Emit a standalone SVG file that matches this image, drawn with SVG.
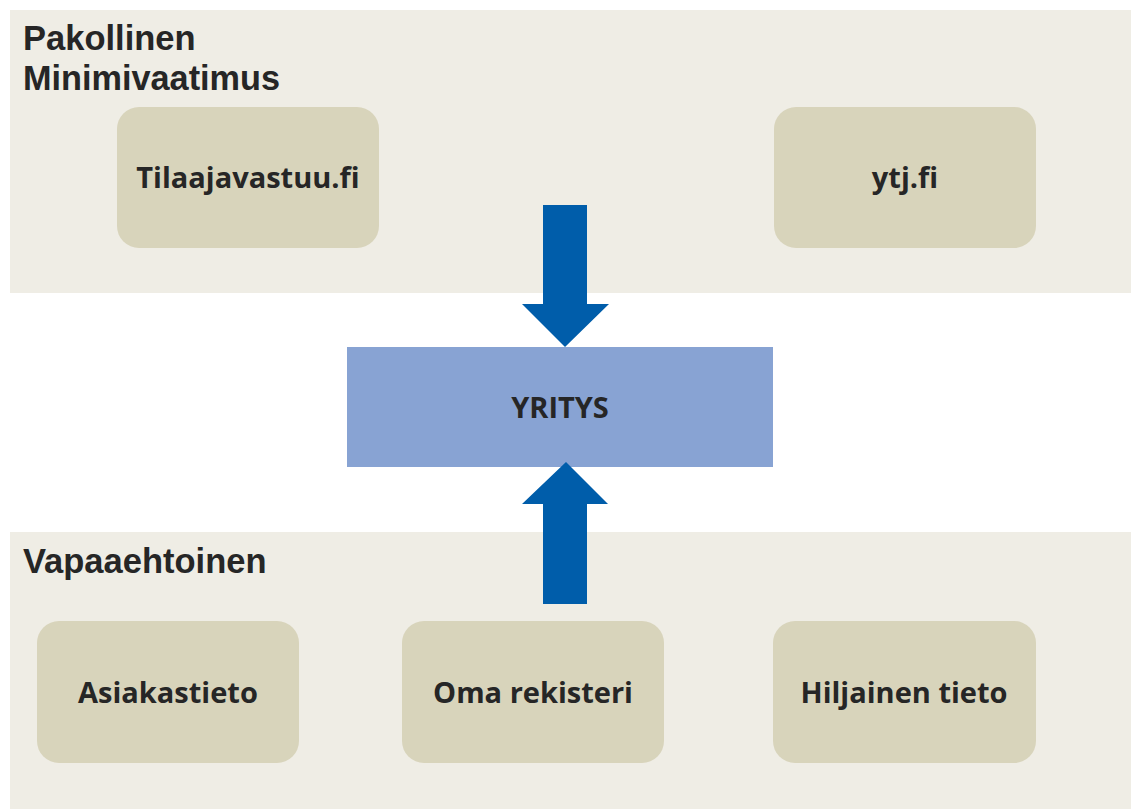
<svg xmlns="http://www.w3.org/2000/svg" width="1131" height="809" viewBox="0 0 1131 809">
<style>
.band{fill:#EFEDE5}
.node{fill:#D8D4BB}
.head{font-family:"Liberation Sans",Arial,sans-serif;font-weight:bold;font-size:34.5px;fill:#262626}
.lbl{font-family:"Open Sans","Noto Sans",sans-serif;font-weight:bold;font-size:29px;fill:#262626;text-anchor:middle;font-variant-ligatures:none}
.arrow{fill:#005DAA}
</style>
<rect width="1131" height="809" fill="#FFFFFF"/>
<g id="band-top">
<rect class="band" x="10" y="10" width="1121" height="283"/>
<text class="head" x="23" y="50">Pakollinen</text>
<text class="head" x="23" y="90" textLength="257" lengthAdjust="spacingAndGlyphs">Minimivaatimus</text>
</g>
<g id="band-bottom">
<rect class="band" x="10" y="532" width="1121" height="277"/>
<text class="head" x="23" y="573">Vapaaehtoinen</text>
</g>
<g id="tilaajavastuu">
<rect class="node" x="117" y="107" width="262" height="141" rx="22"/>
<text class="lbl" x="248" y="188">Tilaajavastuu.fi</text>
</g>
<g id="ytj">
<rect class="node" x="774" y="107" width="262" height="141" rx="22"/>
<text class="lbl" x="905" y="188">ytj.fi</text>
</g>
<g id="yritys">
<rect x="347" y="347" width="426" height="120" fill="#88A3D3"/>
<text class="lbl" x="560" y="418">YRITYS</text>
</g>
<g id="asiakastieto">
<rect class="node" x="37" y="621" width="262" height="142" rx="22"/>
<text class="lbl" x="168" y="703">Asiakastieto</text>
</g>
<g id="oma-rekisteri">
<rect class="node" x="402" y="621" width="262" height="142" rx="22"/>
<text class="lbl" x="533" y="703">Oma rekisteri</text>
</g>
<g id="hiljainen">
<rect class="node" x="773" y="621" width="263" height="142" rx="22"/>
<text class="lbl" x="904" y="703">Hiljainen tieto</text>
</g>
<g id="connectors">
<polygon class="arrow" points="543,205 587,205 587,304 609,304 565,347 522,304 543,304"/>
<polygon class="arrow" points="543,604 587,604 587,504 608,504 566,462 522,504 543,504"/>
</g>
</svg>
